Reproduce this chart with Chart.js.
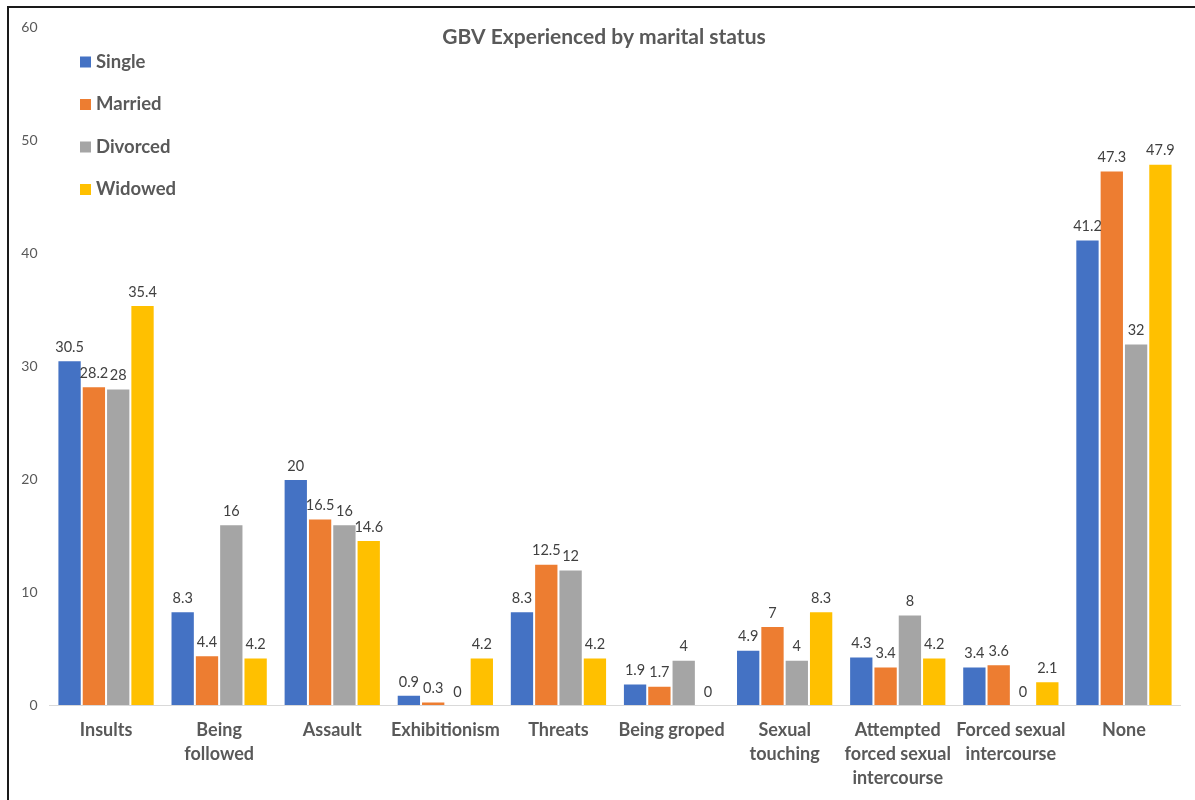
<!DOCTYPE html>
<html>
<head>
<meta charset="utf-8">
<script src="https://cdn.jsdelivr.net/npm/chart.js@4.4.1/dist/chart.umd.min.js"></script>
<style>
  html, body { margin: 0; padding: 0; background: #fff; }
  #wrap { width: 1195px; height: 800px; position: relative; }
</style>
</head>
<body>
<div id="wrap"><canvas id="c" width="1195" height="800"></canvas></div>
<script>
const categories = [
  "Insults", ["Being", "followed"], "Assault", "Exhibitionism", "Threats",
  "Being groped", ["Sexual", "touching"], ["Attempted", "forced sexual", "intercourse"],
  ["Forced sexual", "intercourse"], "None"
];
const seriesNames = ["Single", "Married", "Divorced", "Widowed"];
const single   = [30.5, 8.3, 20, 0.9, 8.3, 1.9, 4.9, 4.3, 3.4, 41.2];
const married  = [28.2, 4.4, 16.5, 0.3, 12.5, 1.7, 7, 3.4, 3.6, 47.3];
const divorced = [28, 16, 16, 0, 12, 4, 4, 8, 0, 32];
const widowed  = [35.4, 4.2, 14.6, 4.2, 4.2, 0, 8.3, 4.2, 2.1, 47.9];
const yTicks = [0, 10, 20, 30, 40, 50, 60];
const colors = ["#4472C4", "#ED7D31", "#A5A5A5", "#FFC000"];
const titleText = "GBV Experienced by marital status";

const FONT = "Lato, 'Open Sans', sans-serif";

const extras = {
  id: 'extras',
  afterDatasetsDraw(chart) {
    const ctx = chart.ctx;
    ctx.save();
    ctx.font = "14.5px " + FONT;
    ctx.fillStyle = "#404040";
    ctx.textAlign = "center";
    ctx.textBaseline = "middle";
    chart.data.datasets.forEach((ds, i) => {
      const meta = chart.getDatasetMeta(i);
      meta.data.forEach((bar, j) => {
        ctx.fillText(String(ds.data[j]), bar.x, bar.y - 13);
      });
    });
    ctx.restore();
  },
  afterDraw(chart) {
    const ctx = chart.ctx;
    ctx.save();
    ctx.strokeStyle = "#1a1a1a";
    ctx.lineWidth = 2;
    ctx.beginPath();
    ctx.moveTo(8, 800);
    ctx.lineTo(8, 7);
    ctx.lineTo(1195, 7);
    ctx.stroke();
    ctx.font = "bold 21px " + FONT;
    ctx.fillStyle = "#595959";
    ctx.textAlign = "center";
    ctx.textBaseline = "middle";
    ctx.fillText(titleText, 604, 37);
    ctx.font = "bold 18.5px " + FONT;
    ctx.textAlign = "left";
    chart.data.datasets.forEach((ds, i) => {
      const cy = 62 + i * 42.5;
      ctx.fillStyle = ds.backgroundColor;
      ctx.fillRect(80, cy - 5.5, 11, 11);
      ctx.fillStyle = "#595959";
      ctx.fillText(ds.label, 96, cy);
    });
    ctx.restore();
  }
};

const dataSeries = [single, married, divorced, widowed];

new Chart(document.getElementById('c'), {
  type: 'bar',
  data: {
    labels: categories,
    datasets: seriesNames.map((n, i) => ({
      label: n,
      data: dataSeries[i],
      backgroundColor: colors[i],
      borderColor: 'rgba(255,255,255,0.7)',
      borderWidth: 1,
      barPercentage: 1,
      categoryPercentage: 0.86
    }))
  },
  options: {
    responsive: false,
    animation: false,
    events: [],
    layout: { padding: { top: 27, right: 14.5, left: 0, bottom: 0 } },
    plugins: {
      legend: { display: false },
      title: { display: false },
      tooltip: { enabled: false }
    },
    scales: {
      x: {
        grid: { display: false, drawTicks: false },
        border: { display: true, color: '#D9D9D9', width: 1 },
        ticks: {
          color: '#595959',
          font: { family: FONT, size: 18, weight: 'bold', lineHeight: 1.333 },
          padding: 13,
          maxRotation: 0,
          autoSkip: false
        },
        afterFit(s) { s.height = 95; }
      },
      y: {
        min: 0, max: 60,
        afterBuildTicks(s) { s.ticks = yTicks.map(v => ({ value: v })); },
        grid: { display: false, drawTicks: false },
        border: { display: false },
        ticks: {
          color: '#595959',
          font: { family: FONT, size: 14 },
          padding: 12
        },
        afterFit(s) { s.width = 49.5; }
      }
    }
  },
  plugins: [extras]
});
</script>
</body>
</html>
